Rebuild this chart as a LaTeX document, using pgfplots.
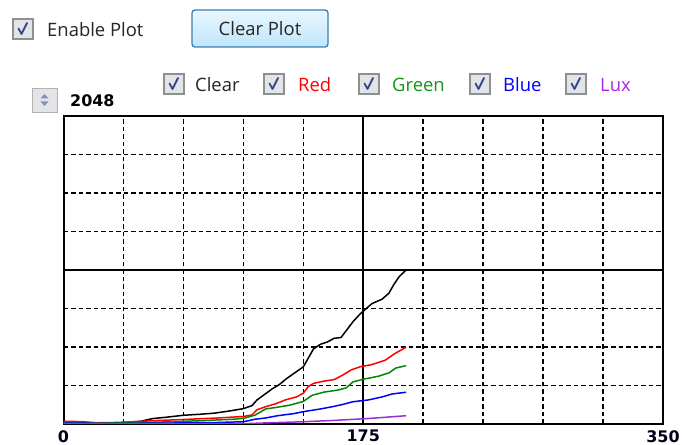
\documentclass[border=0pt]{standalone}
\usepackage{pgfplots}
\pgfplotsset{compat=1.18}
\usepackage{fontspec}
\setmainfont{Open Sans}
\newfontfamily\numfont{DejaVu Sans}
\definecolor{cbborder}{RGB}{142,143,143}
\definecolor{cbfill}{RGB}{226,228,232}
\definecolor{cbcheck}{RGB}{52,72,140}
\definecolor{btnborder}{RGB}{60,127,177}
\definecolor{btntop}{RGB}{234,246,253}
\definecolor{btnbot}{RGB}{190,230,253}
\definecolor{dgreen}{RGB}{0,135,0}
\definecolor{lgreen}{RGB}{20,150,20}
\definecolor{luxc}{RGB}{155,45,215}
\definecolor{luxl}{RGB}{170,40,230}
\newcommand{\cb}[2]{%
  \filldraw[draw=cbborder, fill=cbfill, line width=1.6bp] (#1-10,#2-10) rectangle (#1+10,#2+10);
  \draw[cbcheck, line width=1.8bp, line cap=round, line join=round] (#1-4.5,#2+0.5) -- (#1-1.5,#2-5) -- (#1+4,#2+6);
}
\newcommand{\uifont}{\fontsize{18.5}{18.5}\selectfont}
\begin{document}
\begin{tikzpicture}[x=1bp,y=1bp]
\useasboundingbox (0,0) rectangle (682,445);
\fill[white] (0,0) rectangle (682,445);
% top controls
\cb{23}{416}
\node[anchor=west, inner sep=0pt, font=\uifont, text=black!85] at (47,415) {Enable Plot};
\shade[top color=btntop, bottom color=btnbot, rounded corners=3bp] (192,398) rectangle (328,435);
\draw[btnborder, line width=1.3bp, rounded corners=3bp] (192,398) rectangle (328,435);
\node[inner sep=0pt, font=\uifont, text=black!85] at (260,416) {Clear Plot};
% spinner
\filldraw[draw=cbborder!70, fill=cbfill, line width=0.8bp] (32,333) rectangle (57,357);
\fill[cbcheck!60] (40.5,346.5) -- (48.5,346.5) -- (44.5,351) -- cycle;
\fill[cbcheck!60] (40.5,343.5) -- (48.5,343.5) -- (44.5,339) -- cycle;
\node[anchor=west, inner sep=0pt, font=\numfont\bfseries\fontsize{16}{16}\selectfont] at (70,344) {2048};
% legend
\cb{174}{361}
\node[anchor=west, inner sep=0pt, font=\uifont, text=black!85] at (195,360) {Clear};
\cb{274}{361}
\node[anchor=west, inner sep=0pt, font=\uifont, text=red] at (298,360) {Red};
\cb{369}{361}
\node[anchor=west, inner sep=0pt, font=\uifont, text=lgreen] at (392,360) {Green};
\cb{480}{361}
\node[anchor=west, inner sep=0pt, font=\uifont, text=blue] at (503,360) {Blue};
\cb{576}{361}
\node[anchor=west, inner sep=0pt, font=\uifont, text=luxl] at (600,360) {Lux};
\begin{axis}[
  at={(63.5bp,21bp)}, anchor=south west,
  width=599.5bp, height=308bp, scale only axis,
  xmin=0, xmax=350, ymin=0, ymax=2048,
  xtick={35,70,...,315}, xticklabels={},
  ytick={256,512,768,1280,1536,1792}, yticklabels={},
  major tick length=0pt,
  grid=major,
  major grid style={black, line width=1.5bp, dash pattern=on 4.5bp off 3bp},
  extra x ticks={0,175,350},
  extra x tick labels={0,175,350},
  extra x tick style={grid=major, major grid style={black, solid, line width=1.8bp}},
  extra y ticks={1024},
  extra y tick labels={},
  extra y tick style={grid=major, major grid style={black, solid, line width=1.8bp}},
  xticklabel style={font=\numfont\bfseries\fontsize{16}{16}\selectfont, text=black!90!blue, inner sep=0pt, yshift=-6bp},
  axis line style={black, line width=2bp},
  clip=true,
]
\addplot[black, line width=1.5bp] coordinates {(0,8) (10,6) (20,3) (30,5) (40,14) (45,18) (52,36) (60,45) (70,58) (80,65) (88,72) (96,85) (105,102) (110,122) (113,160) (116,185) (122,235) (126,262) (130,300) (135,340) (140,380) (143,440) (146,500) (150,530) (154,545) (158,570) (162,575) (165,620) (169,680) (173,730) (176,760) (180,800) (186,830) (190,870) (193,930) (196,980) (200,1024)};
\addplot[red, line width=1.5bp] coordinates {(0,18) (10,16) (20,8) (30,10) (40,14) (52,22) (70,30) (90,40) (105,50) (110,60) (113,95) (118,115) (124,135) (130,162) (136,180) (140,205) (143,250) (146,270) (152,285) (158,295) (163,325) (168,360) (173,380) (180,395) (188,425) (193,465) (196,485) (200,510)};
\addplot[dgreen, line width=1.5bp] coordinates {(0,10) (20,6) (40,8) (60,14) (80,22) (100,32) (106,40) (112,60) (118,100) (124,110) (132,125) (140,150) (145,190) (152,212) (160,225) (165,240) (169,280) (176,300) (184,318) (190,340) (194,372) (200,388)};
\addplot[blue, line width=1.5bp] coordinates {(0,6) (30,4) (60,6) (90,10) (105,15) (112,32) (118,40) (125,55) (135,70) (140,82) (150,100) (157,115) (163,130) (169,148) (178,160) (186,180) (192,200) (200,211)};
\addplot[luxc, line width=1.5bp] coordinates {(0,3) (40,2) (80,2) (105,2) (120,8) (140,15) (160,25) (180,38) (200,55)};
\end{axis}
\end{tikzpicture}
\end{document}
